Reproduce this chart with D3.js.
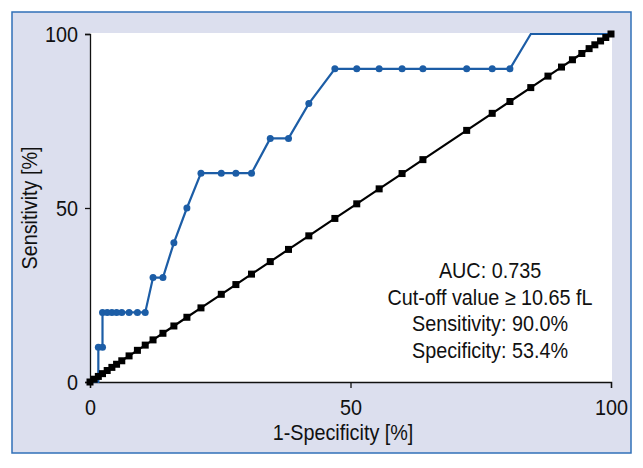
<!DOCTYPE html>
<html>
<head>
<meta charset="utf-8">
<script src="https://cdn.jsdelivr.net/npm/d3@7"></script>
<style>
  html, body { margin: 0; padding: 0; background: #ffffff; }
  svg { display: block; }
  text { font-family: "Liberation Sans", Arial, sans-serif; fill: #111; }
</style>
</head>
<body>
<svg id="chart" width="643" height="468"></svg>
<script>
// ---- data ----
const xTicks = [0, 50, 100];
const yTicks = [0, 50, 100];
const xLabel = "1-Specificity [%]";
const yLabel = "Sensitivity [%]";

// ROC curve (1-specificity %, sensitivity %)
const rocX = [0, 1.6, 1.6, 2.4, 2.4, 3.3, 4.2, 5.1, 6.1, 7.5, 9.1, 10.6, 12.1, 14.0, 16.1, 18.6, 21.3, 25.2, 28.0, 31.0, 34.6, 38.1, 42.0, 47.0, 51.2, 55.5, 59.9, 63.9, 72.3, 77.2, 80.6, 84.6, 100];
const rocY = [0, 0, 10, 10, 20, 20, 20, 20, 20, 20, 20, 20, 30, 30, 40, 50, 60, 60, 60, 60, 70, 70, 80, 90, 90, 90, 90, 90, 90, 90, 90, 100, 100];
const rocMarked = [0, 0, 1, 1, 1, 1, 1, 1, 1, 1, 1, 1, 1, 1, 1, 1, 1, 1, 1, 1, 1, 1, 1, 1, 1, 1, 1, 1, 1, 1, 1, 0, 0];

// reference (chance) line points
const refX = [0, 0.8, 1.6, 2.4, 3.3, 4.2, 5.1, 6.1, 7.5, 9.1, 10.6, 12.1, 14.0, 16.1, 18.6, 21.3, 25.2, 28.0, 31.0, 34.6, 38.1, 42.0, 47.0, 51.2, 55.5, 59.9, 63.9, 72.3, 77.2, 80.6, 84.6, 87.9, 90.5, 92.6, 94.4, 95.8, 96.9, 98.0, 99.0, 100];
const refY = refX.slice();

const notes = ["AUC: 0.735", "Cut-off value \u2265 10.65 fL", "Sensitivity: 90.0%", "Specificity: 53.4%"];

// ---- drawing ----
const svg = d3.select("#chart");
const blue = "#1c5da6";
const fs = 22;
const sx = 0.9; // condensed look

svg.append("rect").attr("x", 12).attr("y", 12).attr("width", 619).attr("height", 441)
  .attr("fill", "#dcdfee").attr("stroke", "#3070b8").attr("stroke-width", 1.5);

const x = d3.scaleLinear().domain([0, 100]).range([90, 611]);
const y = d3.scaleLinear().domain([0, 100]).range([382, 34]);

svg.append("rect").attr("x", x(0)).attr("y", y(100) - 1)
  .attr("width", x(100) - x(0) + 1).attr("height", y(0) - y(100) + 1).attr("fill", "#ffffff");

const xAxis = svg.append("g").attr("transform", `translate(0,${y(0)})`)
  .call(d3.axisBottom(x).tickValues(xTicks).tickSizeOuter(0).tickSize(6).tickPadding(11));
const yAxis = svg.append("g").attr("transform", `translate(${x(0)},0)`)
  .call(d3.axisLeft(y).tickValues(yTicks).tickSizeOuter(0).tickSize(5).tickPadding(7));
[xAxis, yAxis].forEach(g => {
  g.selectAll("path, line").attr("stroke", "#111").attr("stroke-width", 1.3);
  g.selectAll("text").style("font-family", null).attr("font-size", fs).attr("fill", "#111")
    .each(function () {
      const t = d3.select(this);
      const tx = +(t.attr("x") || 0);
      t.attr("x", tx / sx).attr("transform", `scale(${sx},1)`);
    });
});

// ROC line
const pts = rocX.map((d, i) => ({ x: d, y: rocY[i], m: rocMarked[i] }));
svg.append("path").datum(pts)
  .attr("d", d3.line().x(d => x(d.x)).y(d => y(d.y)))
  .attr("fill", "none").attr("stroke", blue).attr("stroke-width", 2.2);
svg.selectAll("circle.roc").data(pts.filter(d => d.m)).enter().append("circle")
  .attr("class", "roc").attr("cx", d => x(d.x)).attr("cy", d => y(d.y)).attr("r", 3.5)
  .attr("fill", blue);

// reference line
const rpts = refX.map((d, i) => ({ x: d, y: refY[i] }));
svg.append("path").datum(rpts)
  .attr("d", d3.line().x(d => x(d.x)).y(d => y(d.y)))
  .attr("fill", "none").attr("stroke", "#000").attr("stroke-width", 2.2);
const sq = 7;
svg.selectAll("rect.ref").data(rpts).enter().append("rect")
  .attr("class", "ref").attr("x", d => x(d.x) - sq / 2).attr("y", d => y(d.y) - sq / 2)
  .attr("width", sq).attr("height", sq).attr("fill", "#000");

// axis titles
svg.append("text").attr("transform", `translate(343,440) scale(${sx},1)`)
  .attr("text-anchor", "middle").attr("font-size", fs).text(xLabel);
svg.append("text").attr("transform", `translate(37,${(y(0) + y(100)) / 2}) rotate(-90) scale(${sx},1)`)
  .attr("text-anchor", "middle").attr("font-size", fs).text(yLabel);

// annotation
svg.selectAll("text.note").data(notes).enter().append("text")
  .attr("class", "note").attr("transform", (d, i) => `translate(490,${278 + i * 26.6}) scale(${sx},1)`)
  .attr("text-anchor", "middle").attr("font-size", fs).text(d => d);
</script>
</body>
</html>
